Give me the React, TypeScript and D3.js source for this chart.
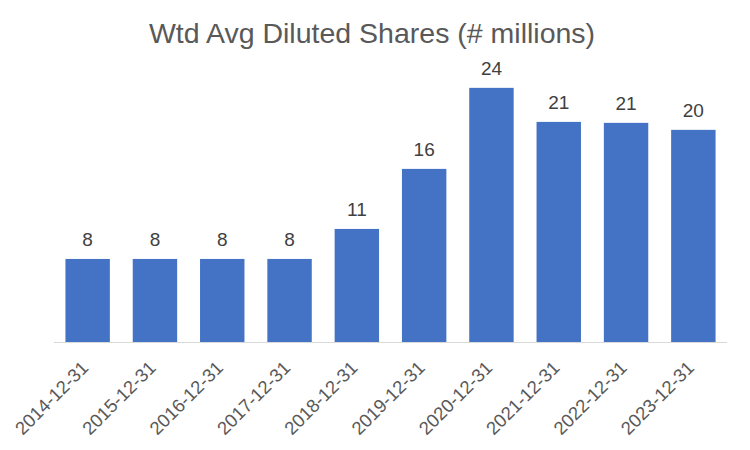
import React from "react";
import * as d3 from "d3";

const categories = ["2014-12-31","2015-12-31","2016-12-31","2017-12-31","2018-12-31","2019-12-31","2020-12-31","2021-12-31","2022-12-31","2023-12-31"];
const values = [7.83, 7.83, 7.83, 7.83, 10.66, 16.32, 23.96, 20.75, 20.66, 20.0];
const labels = ["8","8","8","8","11","16","24","21","21","20"];
const title = "Wtd Avg Diluted Shares (# millions)";

const W = 750, H = 450;
const font = "'Liberation Sans', Arial, sans-serif";

export default function App() {
  const x = d3.scaleBand<string>().domain(categories).range([54, 727]).paddingInner(0.34).paddingOuter(0.17);
  const y = d3.scaleLinear().domain([0, 28]).range([342, 45]);
  return (
    <svg width={W} height={H} style={{ position: "absolute", left: 0, top: 0 }}>
      <rect width={W} height={H} fill="#fff" />
      <text x={372} y={43} textAnchor="middle" fontFamily={font} fontSize={28.5} fill="#595959">{title}</text>
      {categories.map((c, i) => (
        <rect key={c} x={x(c)} y={y(values[i])} width={x.bandwidth()} height={y(0) - y(values[i])} fill="#4472C4" />
      ))}
      <line x1={54} x2={727} y1={342.5} y2={342.5} stroke="#d9d9d9" strokeWidth={1} />
      {categories.map((c, i) => (
        <text key={c + "l"} x={x(c)! + x.bandwidth() / 2} y={y(values[i]) - 13} textAnchor="middle" fontFamily={font} fontSize={19} fill="#404040">{labels[i]}</text>
      ))}
      {categories.map((c) => {
        const cx = x(c)! + x.bandwidth() / 2 + 2;
        const cy = 369;
        return (
          <text key={c + "t"} x={cx} y={cy} transform={`rotate(-45 ${cx} ${cy})`} textAnchor="end" fontFamily={font} fontSize={18.5} fill="#595959">{c}</text>
        );
      })}
    </svg>
  );
}
